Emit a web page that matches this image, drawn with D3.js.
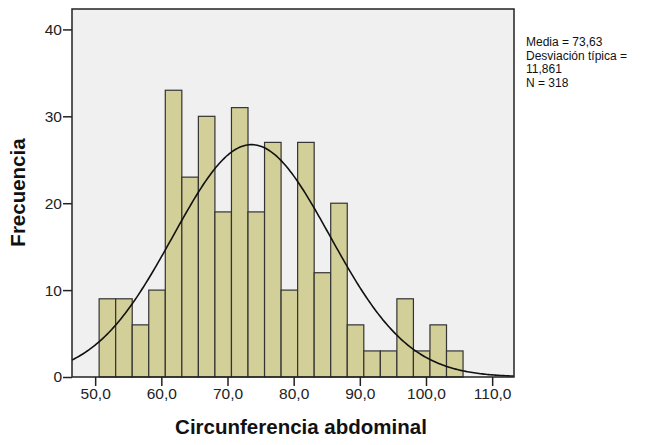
<!DOCTYPE html>
<html>
<head>
<meta charset="utf-8">
<title>Histograma</title>
<script src="https://cdn.jsdelivr.net/npm/d3@7"></script>
<style>
  body { margin: 0; background: #fff; }
  .tick text { font-family: "Liberation Sans", Arial, sans-serif; font-size: 15.5px; fill: #222; }
  .tick line, .domain { stroke: #222; stroke-width: 1.5; }
  .title { font-family: "Liberation Sans", Arial, sans-serif; font-weight: bold; font-size: 20.5px; fill: #111; }
  .stats { font-family: "Liberation Sans", Arial, sans-serif; font-size: 12px; fill: #111; }
</style>
</head>
<body>
<script>
// datos del histograma
var binStart = 50.6;
var binWidth = 2.5;
var counts = [9, 9, 6, 10, 33, 23, 30, 19, 31, 19, 27, 10, 27, 12, 20, 6, 3, 3, 9, 3, 6, 3];
var xTicks = [50, 60, 70, 80, 90, 100, 110];
var yTicks = [0, 10, 20, 30, 40];
var statLines = ["Media = 73,63", "Desviación típica =", "11,861", "N = 318"];
var media = 73.63, desv = 11.861, n = 318;

var width = 647, height = 445;
var plot = {left: 72, right: 514, top: 9, bottom: 377};

var svg = d3.select("body").append("svg").attr("width", width).attr("height", height);

var x = d3.scaleLinear().domain([46.5, 113.3]).range([plot.left, plot.right]);
var y = d3.scaleLinear().domain([0, 42.35]).range([plot.bottom, plot.top]);

// fondo del area
svg.append("rect")
  .attr("x", plot.left).attr("y", plot.top)
  .attr("width", plot.right - plot.left).attr("height", plot.bottom - plot.top)
  .attr("fill", "#f0f0f0");

var bins = counts.map(function(c, i) { return {x0: binStart + i * binWidth, x1: binStart + (i + 1) * binWidth, c: c}; });

svg.selectAll("rect.bar").data(bins).enter().append("rect")
  .attr("class", "bar")
  .attr("x", function(d) { return x(d.x0); })
  .attr("y", function(d) { return y(d.c); })
  .attr("width", function(d) { return x(d.x1) - x(d.x0); })
  .attr("height", function(d) { return y(0) - y(d.c); })
  .attr("fill", "#d3cf98")
  .attr("stroke", "#333")
  .attr("stroke-width", 1.2);

// curva normal con media, desviacion y N
var k = n * binWidth / (desv * Math.sqrt(2 * Math.PI));
var pts = d3.range(46.5, 113.31, 0.25).map(function(v) {
  return [v, k * Math.exp(-0.5 * Math.pow((v - media) / desv, 2))];
});
svg.append("path")
  .attr("d", d3.line().x(function(d) { return x(d[0]); }).y(function(d) { return y(d[1]); })(pts))
  .attr("fill", "none").attr("stroke", "#111").attr("stroke-width", 1.6);

svg.append("g")
  .attr("transform", "translate(0," + plot.bottom + ")")
  .call(d3.axisBottom(x).tickValues(xTicks).tickSize(9).tickSizeOuter(0).tickPadding(2)
    .tickFormat(function(d) { return d.toFixed(1).replace(".", ","); }))
  .select(".domain").remove();

svg.append("g")
  .attr("transform", "translate(" + plot.left + ",0)")
  .call(d3.axisLeft(y).tickValues(yTicks).tickSize(9).tickSizeOuter(0).tickPadding(1))
  .select(".domain").remove();

// marco encima
svg.append("rect")
  .attr("x", plot.left).attr("y", plot.top)
  .attr("width", plot.right - plot.left).attr("height", plot.bottom - plot.top)
  .attr("fill", "none").attr("stroke", "#222").attr("stroke-width", 1.5);

svg.append("text").attr("class", "title")
  .attr("x", 301).attr("y", 434)
  .attr("text-anchor", "middle").text("Circunferencia abdominal");

svg.append("text").attr("class", "title")
  .attr("transform", "translate(25,192.5) rotate(-90)")
  .attr("text-anchor", "middle").text("Frecuencia");

svg.selectAll("text.stats").data(statLines).enter().append("text")
  .attr("class", "stats")
  .attr("x", 526)
  .attr("y", function(d, i) { return 46 + i * 13.5; })
  .text(function(d) { return d; });
</script>
</body>
</html>
